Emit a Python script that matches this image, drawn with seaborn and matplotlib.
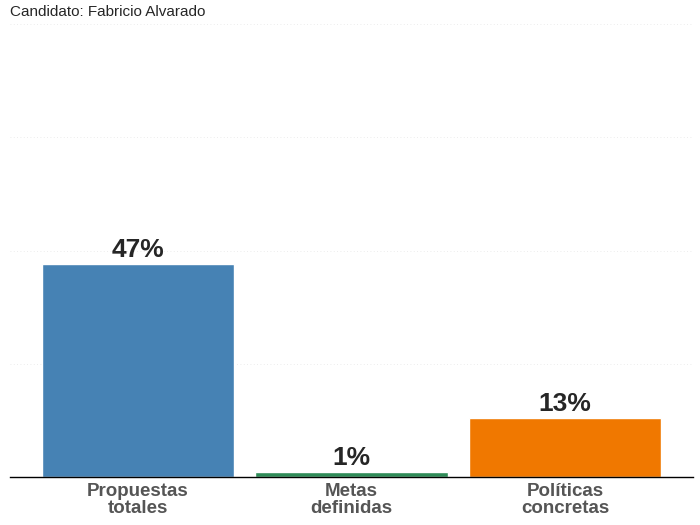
import matplotlib
matplotlib.use("Agg")
import matplotlib.pyplot as plt
import seaborn as sns
import pandas as pd

categories = ["Propuestas\ntotales", "Metas\ndefinidas", "Políticas\nconcretas"]
values = [47, 1, 13]
labels = ["47%", "1%", "13%"]
colors = ["#4682B4", "#2E8B57", "#F07800"]

sns.set_style("white")
plt.rcParams['font.family'] = ['Liberation Sans', 'DejaVu Sans']

df = pd.DataFrame({"cat": categories, "val": values})
fig = plt.figure(figsize=(7, 5.25), dpi=100)
ax = fig.add_axes([10/700, 48/525, 683/700, 453/525])
sns.barplot(data=df, x="cat", y="val", hue="cat", palette=colors, width=0.9,
            legend=False, ax=ax, saturation=1)
ax.set_xlim(-0.6, 2.6)
ax.set_ylim(0, 100)
for y in [25, 50, 75, 100]:
    ax.axhline(y, color="#e6e6e6", lw=0.6, ls=(0, (1, 3)), zorder=0)
for i, (v, l) in enumerate(zip(values, labels)):
    ax.text(i, v + 0.5, l, ha="center", va="bottom", fontsize=19, fontweight="bold")
ax.set_yticks([])
ax.set_xlabel("")
ax.set_ylabel("")
for s in ["top", "left", "right"]:
    ax.spines[s].set_visible(False)
ax.spines["bottom"].set_color("black")
ax.spines["bottom"].set_linewidth(1)
ax.tick_params(axis="x", length=0, pad=4)
for t in ax.get_xticklabels():
    t.set_fontsize(13.5)
    t.set_fontweight("bold")
    t.set_color("#555555")
    t.set_linespacing(1.0)
fig.text(10/700, 1 - 12/525, "Candidato: Fabricio Alvarado", fontsize=11, va="center", ha="left")
fig.savefig("out.png", dpi=100)
